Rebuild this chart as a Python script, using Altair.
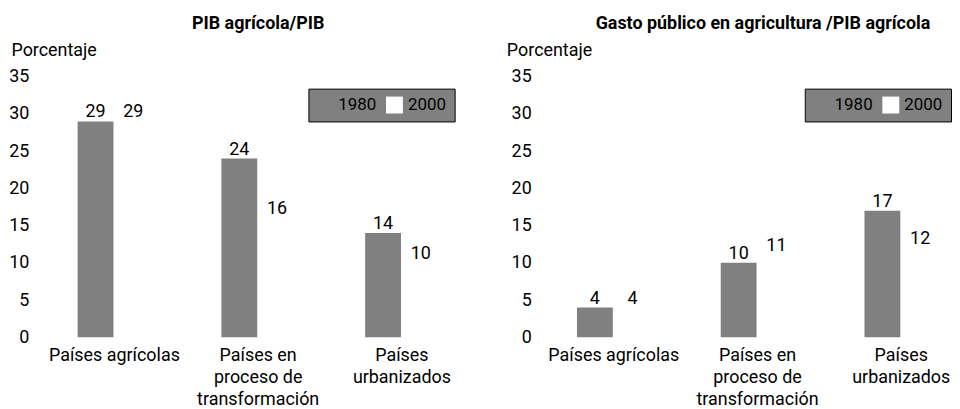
import altair as alt
import pandas as pd

# ---- data ----
categories = ["Países agrícolas", "Países en|proceso de|transformación", "Países|urbanizados"]
years = ["1980", "2000"]
pib_1980 = [29, 24, 14]
pib_2000 = [29, 16, 10]
gasto_1980 = [4, 10, 17]
gasto_2000 = [4, 11, 12]
panel_titles = ["PIB agrícola/PIB", "Gasto público en agricultura /PIB agrícola"]
y_title = "Porcentaje"
y_ticks = [0, 5, 10, 15, 20, 25, 30, 35]

TXT = "Roboto, Liberation Sans, sans-serif"
NUM = "Roboto, Liberation Sans, sans-serif"


def make_df(v1980, v2000):
    rows = []
    for c, a, b in zip(categories, v1980, v2000):
        rows.append({"cat": c, "year": years[0], "value": a})
        rows.append({"cat": c, "year": years[1], "value": b})
    return pd.DataFrame(rows)


def panel(df, title, width, xscale, label_pad, title_x, legend_x, title_dx):
    base = alt.Chart(df).encode(
        x=alt.X(
            "cat:N",
            sort=categories,
            scale=xscale,
            axis=alt.Axis(
                title=None, labelAngle=0, domain=False, ticks=False,
                labelExpr="split(datum.label, '|')",
                labelFont=TXT, labelFontSize=18, labelColor="black",
                labelLineHeight=22.5, labelPadding=9, labelBaseline="top",
                labelAlign="center", labelLimit=300,
            ),
        ),
        xOffset=alt.XOffset("year:N", sort=years,
                            scale=alt.Scale(paddingInner=0.05, paddingOuter=0)),
        y=alt.Y(
            "value:Q",
            scale=alt.Scale(domain=[0, 35], nice=False, zero=True),
            axis=alt.Axis(
                values=y_ticks, grid=False, domain=False, ticks=False, tickSize=0,
                labelPadding=label_pad, labelFont=NUM, labelFontSize=18,
                labelColor="black",
                title=y_title, titleAngle=0, titleAlign="left",
                titleBaseline="middle", titleX=title_x, titleY=-26,
                titleFont=TXT, titleFontSize=18, titleFontWeight="normal",
                titleColor="black",
            ),
        ),
    )
    bars = base.mark_bar().encode(
        color=alt.Color(
            "year:N", sort=years,
            scale=alt.Scale(domain=years, range=["#808080", "#ffffff"]),
            legend=alt.Legend(
                title=None, orient="none", legendX=legend_x, legendY=12,
                direction="horizontal", fillColor="#808080", strokeColor="black",
                padding=8, symbolType="square", symbolSize=289,
                symbolStrokeWidth=0, symbolOpacity=1,
                labelFont=NUM, labelFontSize=17, labelColor="black",
                labelOffset=5, columnPadding=9,
            ),
        )
    )
    text = base.mark_text(
        baseline="alphabetic", dy=-4, font=NUM, fontSize=18, color="black"
    ).encode(text="value:Q")
    return alt.layer(bars, text).properties(
        width=width, height=262,
        title=alt.TitleParams(
            title, font=TXT, fontSize=18, fontWeight="bold", color="black",
            frame="group", anchor="middle", offset=9, dx=title_dx,
        ),
    )


left = panel(make_df(pib_1980, pib_2000), panel_titles[0], 437,
             alt.Scale(paddingInner=0.488, paddingOuter=0.256),
             12, -30, 269, 0)
right = panel(make_df(gasto_1980, gasto_2000), panel_titles[1], 410,
              alt.Scale(paddingInner=0.488, paddingOuter=0.1626, align=0.787),
              9, -34, 266, 19)

chart = (
    alt.hconcat(left, right, spacing=31)
    .resolve_scale(color="independent")
    .resolve_legend(color="independent")
    .properties(padding={"left": 0, "top": 6, "right": 0, "bottom": 0},
                background="white")
    .configure_view(stroke=None)
)

chart.save("out.html", embed_options={"renderer": "svg", "actions": False})
